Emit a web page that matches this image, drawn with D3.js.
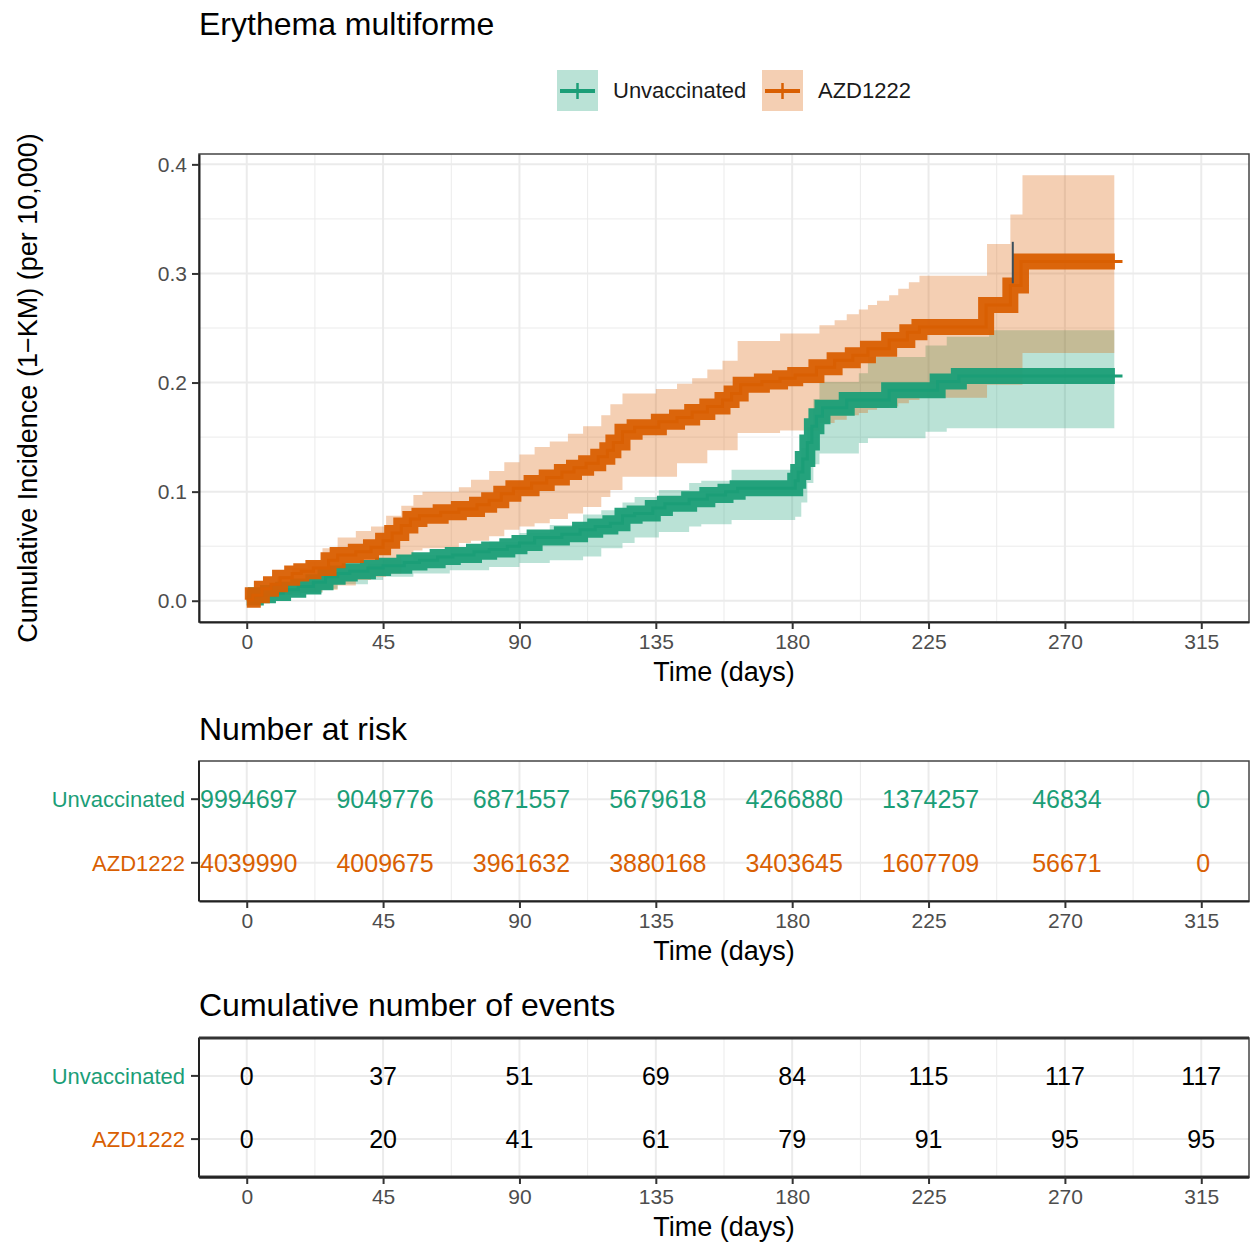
<!DOCTYPE html>
<html>
<head>
<meta charset="utf-8">
<script src="https://cdn.jsdelivr.net/npm/d3@7.9.0/dist/d3.min.js"></script>
<style>
  body { margin: 0; background: #fff; }
  svg { display: block; font-family: "Liberation Sans", Arial, sans-serif; }
</style>
</head>
<body>
<svg id="chart" width="1254" height="1247"></svg>
<script>
// ---- data ----
const groups = ['Unvaccinated', 'AZD1222'];
const groupColors = ['#1B9E77', '#D95F02'];

// Unvaccinated: 1-KM estimate (per 10,000), step times in days
const unvaxTime = [0, 3, 7, 12, 17, 22, 26, 30, 34, 40, 45, 52, 57, 63, 68, 75, 80, 86, 90, 95,
  104, 110, 115, 120, 124, 128, 134, 138, 146, 152, 158, 162, 181, 182, 183.5, 185, 186.5, 188, 190, 198,
  212, 228, 235];
const unvaxEst = [0.003, 0.005, 0.007, 0.010, 0.013, 0.017, 0.022, 0.025, 0.027, 0.030, 0.032, 0.035, 0.037, 0.040, 0.042, 0.045, 0.047, 0.050, 0.053, 0.058,
  0.061, 0.065, 0.068, 0.071, 0.078, 0.080, 0.085, 0.089, 0.093, 0.097, 0.100, 0.103, 0.110, 0.118, 0.130, 0.145, 0.160, 0.169, 0.177, 0.184,
  0.193, 0.201, 0.206];
const unvaxCiTime = [0, 5, 10, 18, 25, 30, 40, 45, 55, 67, 80, 90, 100, 111, 117, 124, 128, 136, 146, 150,
  160, 181, 183, 185, 187, 189, 202, 205, 224, 231, 245];
const unvaxUpper = [0.004, 0.007, 0.011, 0.017, 0.024, 0.028, 0.034, 0.0375, 0.042, 0.048, 0.054, 0.062, 0.0695, 0.079, 0.083, 0.090, 0.095, 0.1016, 0.108, 0.110,
  0.120, 0.123, 0.140, 0.159, 0.185, 0.2006, 0.2086, 0.2235, 0.234, 0.242, 0.248];
const unvaxLower = [0.002, 0.004, 0.005, 0.007, 0.011, 0.015, 0.019, 0.022, 0.025, 0.028, 0.031, 0.0345, 0.037, 0.0405, 0.048, 0.053, 0.058, 0.063, 0.068, 0.070,
  0.074, 0.077, 0.090, 0.108, 0.125, 0.135, 0.1446, 0.149, 0.155, 0.158, 0.158];

// AZD1222
const azdTime = [0, 2, 5, 8, 11, 15, 18, 22, 27, 30, 36, 41, 45, 48, 51, 54, 57, 64, 70, 76,
  80, 84, 88, 94, 99, 104, 108, 112, 116, 119, 121, 124, 128, 136, 142, 147, 152, 157, 160, 163,
  170, 176, 181, 188, 194, 200, 205, 212, 218, 222, 244, 252, 255.5];
const azdEst = [0.001, 0.005, 0.011, 0.015, 0.021, 0.025, 0.027, 0.030, 0.037, 0.042, 0.045, 0.049, 0.055, 0.062, 0.069, 0.075, 0.078, 0.081, 0.084, 0.088,
  0.092, 0.098, 0.103, 0.108, 0.113, 0.118, 0.122, 0.126, 0.132, 0.138, 0.145, 0.155, 0.159, 0.164, 0.168, 0.173, 0.178, 0.184, 0.190, 0.198,
  0.201, 0.204, 0.207, 0.214, 0.2205, 0.225, 0.231, 0.239, 0.246, 0.251, 0.271, 0.289, 0.311];
const azdCiTime = [0, 5, 10, 15, 20, 25, 30, 36, 41, 46, 51, 55, 58, 70, 74, 80, 85, 90, 95, 100,
  106, 111, 117, 120, 124, 135, 142, 147, 152, 157, 162, 176, 189, 194, 198, 202, 205, 208, 212, 215,
  218.5, 222, 244.3, 252, 256];
const azdUpper = [0.002, 0.013, 0.022, 0.030, 0.036, 0.048, 0.058, 0.064, 0.068, 0.078, 0.087, 0.097, 0.100, 0.104, 0.111, 0.119, 0.127, 0.134, 0.141, 0.146,
  0.153, 0.160, 0.170, 0.180, 0.190, 0.194, 0.199, 0.204, 0.212, 0.220, 0.238, 0.245, 0.2525, 0.257, 0.2625, 0.267, 0.271, 0.275, 0.280, 0.286,
  0.292, 0.298, 0.327, 0.354, 0.390];
const azdLower = [0.000, 0.003, 0.006, 0.007, 0.008, 0.010, 0.014, 0.019, 0.022, 0.025, 0.040, 0.046, 0.048, 0.053, 0.055, 0.059, 0.065, 0.068, 0.071, 0.075,
  0.080, 0.086, 0.095, 0.1016, 0.1137, 0.1137, 0.126, 0.126, 0.138, 0.138, 0.1537, 0.156, 0.163, 0.166, 0.170, 0.172, 0.175, 0.177, 0.178, 0.181,
  0.184, 0.186, 0.198, 0.198, 0.227];

const lastCensor = 286.5;   // end of the dense censor band
const followUpEnd = 289;    // end of the thin curve
const strayMark = { time: 252.8, low: 0.291, high: 0.329 };

// risk / event tables
const tableTimes = [0, 45, 90, 135, 180, 225, 270, 315];
const atRiskUnvax = [9994697, 9049776, 6871557, 5679618, 4266880, 1374257, 46834, 0];
const atRiskAzd = [4039990, 4009675, 3961632, 3880168, 3403645, 1607709, 56671, 0];
const eventsUnvax = [0, 37, 51, 69, 84, 115, 117, 117];
const eventsAzd = [0, 20, 41, 61, 79, 91, 95, 95];
const yTicks = [0, 0.1, 0.2, 0.3, 0.4];

// ---- layout ----
const svg = d3.select('#chart');
const L = 199, R = 1249;
const x = d3.scaleLinear().domain([-15.75, 330.75]).range([L, R]);
const mainTop = 154, mainBottom = 622;
const y = d3.scaleLinear().domain([-0.0195, 0.4095]).range([mainBottom, mainTop]);

const gridMajor = '#EBEBEB';
const axisGrey = '#4D4D4D';
const xMinor = tableTimes.slice(0, -1).map(t => t + 22.5);
const yMinor = yTicks.slice(0, -1).map(v => v + 0.05);

function grid(g, top, bottom, yMaj, yMin, yScale) {
  g.append('rect').attr('x', L).attr('y', top).attr('width', R - L).attr('height', bottom - top).attr('fill', '#fff');
  xMinor.forEach(t => g.append('line').attr('x1', x(t)).attr('x2', x(t)).attr('y1', top).attr('y2', bottom)
    .attr('stroke', gridMajor).attr('stroke-width', 1));
  tableTimes.forEach(t => g.append('line').attr('x1', x(t)).attr('x2', x(t)).attr('y1', top).attr('y2', bottom)
    .attr('stroke', gridMajor).attr('stroke-width', 2));
  yMin.forEach(v => g.append('line').attr('x1', L).attr('x2', R).attr('y1', yScale(v)).attr('y2', yScale(v))
    .attr('stroke', gridMajor).attr('stroke-width', 1));
  yMaj.forEach(v => g.append('line').attr('x1', L).attr('x2', R).attr('y1', yScale(v)).attr('y2', yScale(v))
    .attr('stroke', gridMajor).attr('stroke-width', 2));
}

function xAxis(g, bottom) {
  const ax = g.append('g').attr('transform', `translate(0,${bottom})`)
    .call(d3.axisBottom(x).tickValues(tableTimes).tickSize(7).tickSizeOuter(0).tickPadding(5));
  ax.select('.domain').attr('stroke', '#222').attr('stroke-width', 2);
  ax.selectAll('.tick line').attr('stroke', '#333').attr('stroke-width', 2);
  ax.selectAll('.tick text').attr('fill', axisGrey).attr('font-size', 21).attr('font-family', 'Liberation Sans, Arial, sans-serif');
  g.append('text').attr('x', (L + R) / 2).attr('y', bottom + 59).attr('text-anchor', 'middle')
    .attr('font-size', 27).attr('fill', '#000').text('Time (days)');
}

// ---- title & legend ----
svg.append('text').attr('x', L).attr('y', 35).attr('font-size', 32).attr('fill', '#000').text('Erythema multiforme');

const legendX = [557, 762];
groups.forEach((name, i) => {
  const g = svg.append('g').attr('transform', `translate(${legendX[i]},70)`);
  g.append('rect').attr('width', 41).attr('height', 41).attr('fill', groupColors[i]).attr('fill-opacity', 0.3);
  g.append('line').attr('x1', 3).attr('x2', 38).attr('y1', 21).attr('y2', 21)
    .attr('stroke', groupColors[i]).attr('stroke-width', 4);
  g.append('line').attr('x1', 20.5).attr('x2', 20.5).attr('y1', 13).attr('y2', 29)
    .attr('stroke', groupColors[i]).attr('stroke-width', 2.5);
  g.append('text').attr('x', 56).attr('y', 28).attr('font-size', 22).attr('fill', '#1a1a1a').text(name);
});

// ---- main panel ----
const main = svg.append('g');
grid(main, mainTop, mainBottom, yTicks, yMinor, y);

function stepPts(times, vals, end) {
  const pts = [];
  times.forEach((t, i) => {
    pts.push([t, vals[i]]);
    pts.push([i + 1 < times.length ? times[i + 1] : end, vals[i]]);
  });
  return pts;
}
const lineGen = d3.line().x(d => x(d[0])).y(d => y(d[1]));

const series = [
  { est: [unvaxTime, unvaxEst], ci: [unvaxCiTime, unvaxUpper, unvaxLower] },
  { est: [azdTime, azdEst], ci: [azdCiTime, azdUpper, azdLower] }
];

// confidence ribbons
series.forEach((s, i) => {
  const up = stepPts(s.ci[0], s.ci[1], lastCensor - 0.2);
  const lo = stepPts(s.ci[0], s.ci[2], lastCensor - 0.2).reverse();
  main.append('path').attr('d', lineGen(up.concat(lo)) + 'Z')
    .attr('fill', groupColors[i]).attr('fill-opacity', 0.3).attr('stroke', 'none');
});

// curves: dense censor band + thin step line
series.forEach((s, i) => {
  main.append('path').attr('d', lineGen(stepPts(s.est[0], s.est[1], lastCensor)))
    .attr('fill', 'none').attr('stroke', groupColors[i]).attr('stroke-width', 16)
    .attr('stroke-linejoin', 'miter').attr('stroke-linecap', 'butt').attr('stroke-opacity', 0.95);
  main.append('path').attr('d', lineGen(stepPts(s.est[0], s.est[1], followUpEnd)))
    .attr('fill', 'none').attr('stroke', groupColors[i]).attr('stroke-width', 3);
});

main.append('line').attr('x1', x(strayMark.time)).attr('x2', x(strayMark.time))
  .attr('y1', y(strayMark.low)).attr('y2', y(strayMark.high)).attr('stroke', '#3B4F5C').attr('stroke-width', 2);

main.append('rect').attr('x', L).attr('y', mainTop).attr('width', R - L).attr('height', mainBottom - mainTop)
  .attr('fill', 'none').attr('stroke', '#444').attr('stroke-width', 1.5);

const yAx = main.append('g').attr('transform', `translate(${L},0)`)
  .call(d3.axisLeft(y).tickValues(yTicks).tickFormat(d3.format('.1f')).tickSize(7).tickSizeOuter(0).tickPadding(5));
yAx.select('.domain').attr('stroke', '#222').attr('stroke-width', 2);
yAx.selectAll('.tick line').attr('stroke', '#333').attr('stroke-width', 2);
yAx.selectAll('.tick text').attr('fill', axisGrey).attr('font-size', 21).attr('font-family', 'Liberation Sans, Arial, sans-serif');
xAxis(main, mainBottom);

svg.append('text').attr('transform', `translate(37,${(mainTop + mainBottom) / 2}) rotate(-90)`)
  .attr('text-anchor', 'middle').attr('font-size', 27).attr('fill', '#000')
  .text('Cumulative Incidence (1\u2212KM) (per 10,000)');

// ---- tables ----
const tables = [
  { title: 'Number at risk', titleY: 740, top: 761, bottom: 901, rows: [atRiskUnvax, atRiskAzd], colored: true, heavy: false },
  { title: 'Cumulative number of events', titleY: 1016, top: 1038, bottom: 1177, rows: [eventsUnvax, eventsAzd], colored: false, heavy: true }
];

tables.forEach(tb => {
  const g = svg.append('g');
  const ry = d3.scaleLinear().domain([0.4, 2.6]).range([tb.bottom, tb.top]);
  const rowLevel = [2, 1];
  g.append('text').attr('x', L).attr('y', tb.titleY).attr('font-size', 32).attr('fill', '#000').text(tb.title);
  grid(g, tb.top, tb.bottom, rowLevel, [], ry);

  tb.rows.forEach((vals, i) => {
    const yy = ry(rowLevel[i]);
    g.selectAll(null).data(vals).join('text')
      .attr('x', (d, j) => x(tableTimes[j]) + (tb.colored ? 2 : 0)).attr('y', yy + 9)
      .attr('text-anchor', 'middle').attr('font-size', 25)
      .attr('fill', tb.colored ? groupColors[i] : '#000')
      .text(d => d);
    g.append('line').attr('x1', L - 8).attr('x2', L).attr('y1', yy).attr('y2', yy)
      .attr('stroke', '#333').attr('stroke-width', 2);
    g.append('text').attr('x', L - 14).attr('y', yy + 8).attr('text-anchor', 'end')
      .attr('font-size', 22).attr('fill', groupColors[i]).text(groups[i]);
  });

  g.append('rect').attr('x', L).attr('y', tb.top).attr('width', R - L).attr('height', tb.bottom - tb.top)
    .attr('fill', 'none').attr('stroke', '#444').attr('stroke-width', 1.5);
  g.append('line').attr('x1', L).attr('x2', L).attr('y1', tb.top).attr('y2', tb.bottom)
    .attr('stroke', '#222').attr('stroke-width', 2);
  if (tb.heavy) {
    [tb.top, tb.bottom].forEach(v => g.append('line').attr('x1', L).attr('x2', R).attr('y1', v).attr('y2', v)
      .attr('stroke', '#333').attr('stroke-width', 3));
  }
  xAxis(g, tb.bottom);
});
</script>
</body>
</html>
